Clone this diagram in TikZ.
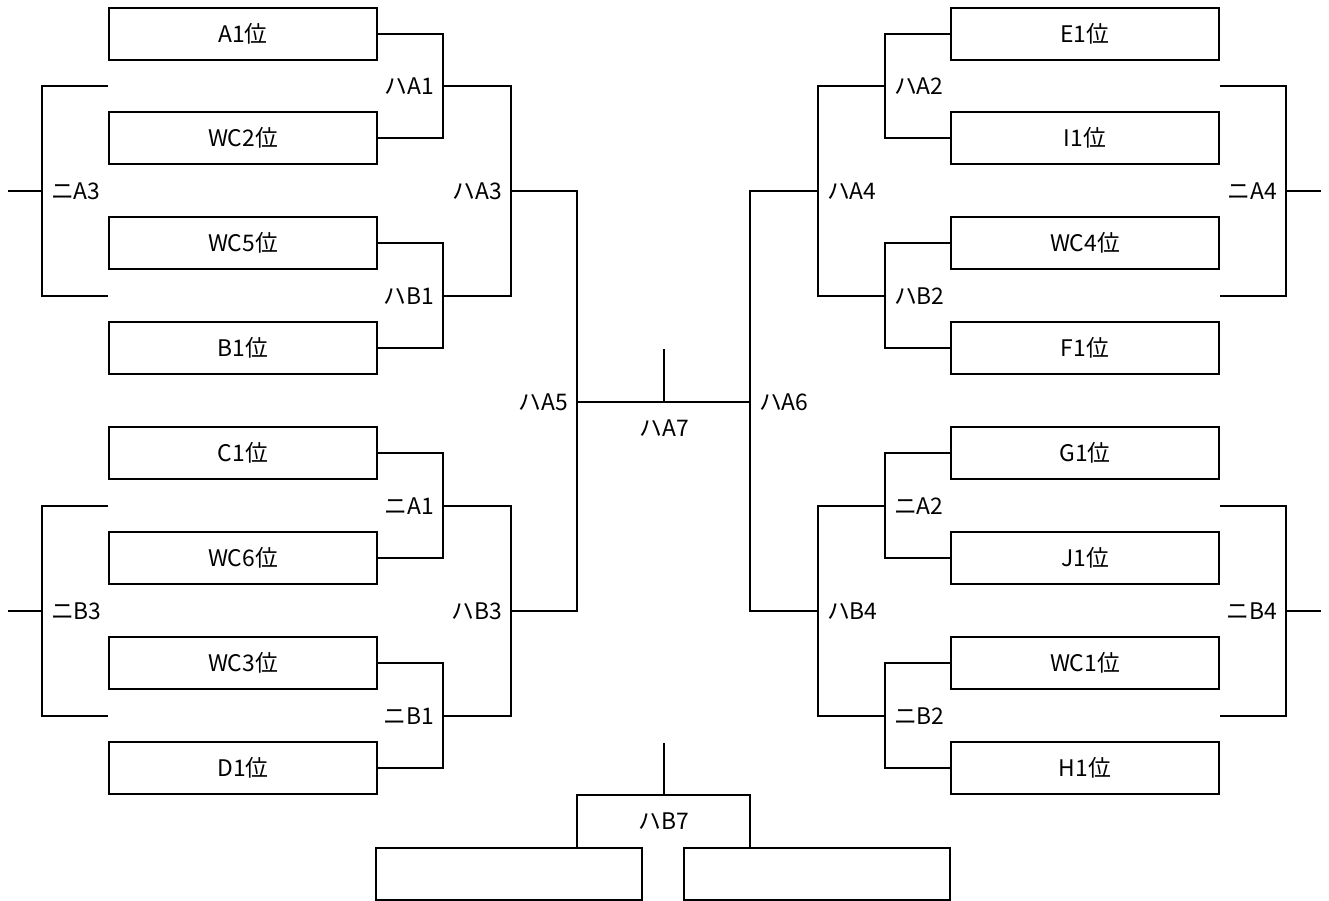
\documentclass[tikz,border=0pt]{standalone}
\usepackage{fontspec}
\setmainfont{Noto Sans CJK JP}
\usetikzlibrary{positioning}

\begin{document}
\begin{tikzpicture}[
  x=0.02cm, y=-0.02cm,
  entry/.style = {draw, line width=1.1pt, inner sep=0pt,
                  minimum width=5.36cm, minimum height=1.04cm,
                  font=\fontsize{13}{15}\selectfont},
  blank/.style = {entry, minimum width=5.32cm},
  wire/.style  = {line width=1.1pt},
  lbl/.style   = {font=\fontsize{13}{15}\selectfont, inner sep=5pt},
  under/.style = {lbl, below, yshift=-5pt},
]
  \useasboundingbox (0,0) rectangle (1329,900);

  % entries, left half
  \node[entry] (a1)  at (243,34)  {A1位};
  \node[entry] (wc2) at (243,138) {WC2位};
  \node[entry] (wc5) at (243,243) {WC5位};
  \node[entry] (b1)  at (243,348) {B1位};
  \node[entry] (c1)  at (243,453) {C1位};
  \node[entry] (wc6) at (243,558) {WC6位};
  \node[entry] (wc3) at (243,663) {WC3位};
  \node[entry] (d1)  at (243,768) {D1位};

  % entries, right half
  \node[entry] (e1)  at (1085,34)  {E1位};
  \node[entry] (i1)  at (1085,138) {I1位};
  \node[entry] (wc4) at (1085,243) {WC4位};
  \node[entry] (f1)  at (1085,348) {F1位};
  \node[entry] (g1)  at (1085,453) {G1位};
  \node[entry] (j1)  at (1085,558) {J1位};
  \node[entry] (wc1) at (1085,663) {WC1位};
  \node[entry] (h1)  at (1085,768) {H1位};

  % the two empty boxes under the final
  \node[blank] (lbox) at (509,874) {};
  \node[blank] (rbox) at (817,874) {};

  % match points
  \coordinate (ha1) at (443,86);  \coordinate (hb1) at (443,296);
  \coordinate (na1) at (443,506); \coordinate (nb1) at (443,716);
  \coordinate (ha3) at (511,191); \coordinate (hb3) at (511,611);
  \coordinate (ha5) at (577,402);
  \coordinate (ha2) at (885,86);  \coordinate (hb2) at (885,296);
  \coordinate (na2) at (885,506); \coordinate (nb2) at (885,716);
  \coordinate (ha4) at (818,191); \coordinate (hb4) at (818,611);
  \coordinate (ha6) at (750,402);
  \coordinate (ha7) at (664,402); \coordinate (ha7top) at (664,349);
  \coordinate (hb7) at (664,795); \coordinate (hb7top) at (664,743);
  \coordinate (na3) at (42,191);   \coordinate (na3out) at (8,191);
  \coordinate (nb3) at (42,611);   \coordinate (nb3out) at (8,611);
  \coordinate (na4) at (1286,191); \coordinate (na4out) at (1321,191);
  \coordinate (nb4) at (1286,611); \coordinate (nb4out) at (1321,611);

  % first round
  \draw[wire] (a1.east)  -| (ha1) |- (wc2.east);
  \draw[wire] (wc5.east) -| (hb1) |- (b1.east);
  \draw[wire] (c1.east)  -| (na1) |- (wc6.east);
  \draw[wire] (wc3.east) -| (nb1) |- (d1.east);
  \draw[wire] (e1.west)  -| (ha2) |- (i1.west);
  \draw[wire] (wc4.west) -| (hb2) |- (f1.west);
  \draw[wire] (g1.west)  -| (na2) |- (j1.west);
  \draw[wire] (wc1.west) -| (nb2) |- (h1.west);

  % second round
  \draw[wire] (ha1) -| (ha3) |- (hb1);
  \draw[wire] (na1) -| (hb3) |- (nb1);
  \draw[wire] (ha2) -| (ha4) |- (hb2);
  \draw[wire] (na2) -| (hb4) |- (nb2);

  % semi-finals and final
  \draw[wire] (ha3) -| (ha5) |- (hb3);
  \draw[wire] (ha4) -| (ha6) |- (hb4);
  \draw[wire] (ha5) -- (ha6);
  \draw[wire] (ha7) -- (ha7top);

  % losers' side brackets (outer)
  \draw[wire] (a1.west |- ha1) -| (na3) |- (wc5.west |- hb1);
  \draw[wire] (na3) -- (na3out);
  \draw[wire] (c1.west |- na1) -| (nb3) |- (wc3.west |- nb1);
  \draw[wire] (nb3) -- (nb3out);
  \draw[wire] (e1.east |- ha2) -| (na4) |- (wc4.east |- hb2);
  \draw[wire] (na4) -- (na4out);
  \draw[wire] (g1.east |- na2) -| (nb4) |- (wc1.east |- nb2);
  \draw[wire] (nb4) -- (nb4out);

  % third place
  \draw[wire] (lbox.north -| ha5) |- (hb7) -| (rbox.north -| ha6);
  \draw[wire] (hb7) -- (hb7top);

  % labels
  \node[lbl, left]  (tha1) at (ha1) {ハA1};
  \node[lbl, left]  (thb1) at (hb1) {ハB1};
  \node[lbl, left]  (tna1) at (na1) {ニA1};
  \node[lbl, left]  (tnb1) at (nb1) {ニB1};
  \node[lbl, left]  (tha3) at (ha3) {ハA3};
  \node[lbl, left]  (thb3) at (hb3) {ハB3};
  \node[lbl, left]  (tha5) at (ha5) {ハA5};
  \node[lbl, right] (tha2) at (ha2) {ハA2};
  \node[lbl, right] (thb2) at (hb2) {ハB2};
  \node[lbl, right] (tna2) at (na2) {ニA2};
  \node[lbl, right] (tnb2) at (nb2) {ニB2};
  \node[lbl, right] (tha4) at (ha4) {ハA4};
  \node[lbl, right] (thb4) at (hb4) {ハB4};
  \node[lbl, right] (tha6) at (ha6) {ハA6};
  \node[lbl, right] (tna3) at (na3) {ニA3};
  \node[lbl, right] (tnb3) at (nb3) {ニB3};
  \node[lbl, left]  (tna4) at (na4) {ニA4};
  \node[lbl, left]  (tnb4) at (nb4) {ニB4};
  \node[under]      (tha7) at (ha7) {ハA7};
  \node[under]      (thb7) at (hb7) {ハB7};
\end{tikzpicture}
\end{document}
